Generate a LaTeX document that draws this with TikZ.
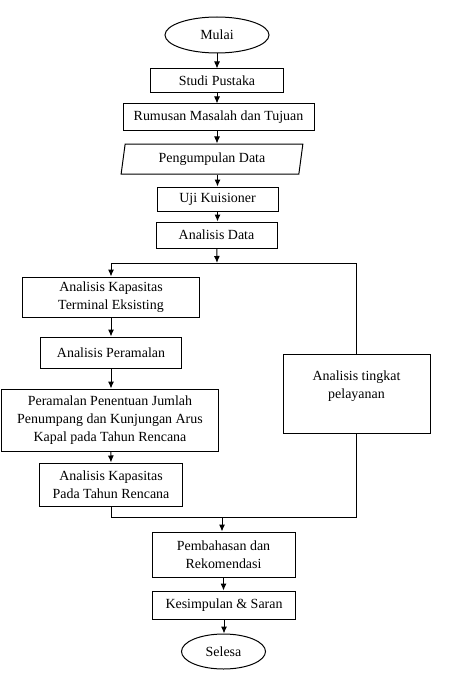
\documentclass[tikz,border=0pt]{standalone}
\usepackage{fontspec}
\setmainfont{Liberation Serif}
\usetikzlibrary{arrows.meta, positioning, shapes.geometric}

\begin{document}
\begin{tikzpicture}[x=1bp, y=-1bp, font=\fontsize{14}{18}\selectfont,
    line width=1bp,
    box/.style={draw, align=center, inner sep=0pt},
    terminal/.style={draw, ellipse, inner sep=0pt},
    io/.style={draw, trapezium, trapezium left angle=79, trapezium right angle=101,
      trapezium stretches=true, inner sep=0pt},
    arrow/.style={-{Latex[length=7bp, width=6bp]}}]
    \useasboundingbox (0,0) rectangle (454,680);

    % Alur utama
    \node[terminal, minimum width=104bp, minimum height=36bp] (mulai) at (217,35) {Mulai};
    \node[box, minimum width=133bp, minimum height=24bp] (studi) at (217,81) {Studi Pustaka};
    \node[box, minimum width=191bp, minimum height=26bp] (rumusan) at (218.5,117) {Rumusan Masalah dan Tujuan};
    \node[io, minimum width=182bp, minimum height=30bp] (pengumpulan) at (212,159) {Pengumpulan Data};
    \node[box, minimum width=121bp, minimum height=24bp] (uji) at (217.5,199) {Uji Kuisioner};
    \node[box, minimum width=121bp, minimum height=26bp] (data) at (216.5,235) {Analisis Data};

    % Cabang kiri
    \node[box, minimum width=176bp, minimum height=40bp] (kapasitas) at (111,297) {Analisis Kapasitas\\Terminal Eksisting};
    \node[box, minimum width=141bp, minimum height=31bp] (peramalan) at (111,352.5) {Analisis Peramalan};
    \node[box, minimum width=216bp, minimum height=62bp] (penentuan) at (110,420) {Peramalan Penentuan Jumlah\\Penumpang dan Kunjungan Arus\\Kapal pada Tahun Rencana};
    \node[box, minimum width=143bp, minimum height=43bp] (rencana) at (111,484.5) {Analisis Kapasitas\\Pada Tahun Rencana};

    % Cabang kanan
    \node[box, minimum width=147bp, minimum height=79bp] (pelayanan) at (356.5,393.5) {Analisis tingkat\\pelayanan\\\mbox{}};

    % Penutup
    \node[box, minimum width=143bp, minimum height=45bp] (pembahasan) at (223.5,554.5) {Pembahasan dan\\Rekomendasi};
    \node[box, minimum width=143bp, minimum height=28bp] (kesimpulan) at (224,605) {Kesimpulan \& Saran};
    \node[terminal, minimum width=84bp, minimum height=35bp] (selesa) at (223.5,651.5) {Selesa};

    \coordinate (split) at (217,263);
    \coordinate (merge) at (222,517);

    \draw[arrow] (mulai) -- (mulai |- studi.north);
    \draw[arrow] (studi) -- (studi |- rumusan.north);
    \draw[arrow] (rumusan.south -| studi) -- (studi |- pengumpulan.north);
    \draw[arrow] (pengumpulan.south -| uji) -- (uji.north);
    \draw[arrow] (uji) -- (uji |- data.north);
    \draw[arrow] (data) -- (split);
    \draw[arrow] (split) -| (kapasitas.north);
    \draw (split) -| (pelayanan.north);
    \draw[arrow] (kapasitas) -- (kapasitas |- peramalan.north);
    \draw[arrow] (peramalan) -- (peramalan |- penentuan.north);
    \draw[arrow] (penentuan) -- (peramalan |- rencana.north);
    \draw (rencana) |- (merge);
    \draw (pelayanan) |- (merge);
    \draw[arrow] (merge) -- (merge |- pembahasan.north);
    \draw[arrow] (pembahasan) -- (pembahasan |- kesimpulan.north);
    \draw[arrow] (kesimpulan) -- (kesimpulan |- selesa.north);
\end{tikzpicture}
\end{document}
